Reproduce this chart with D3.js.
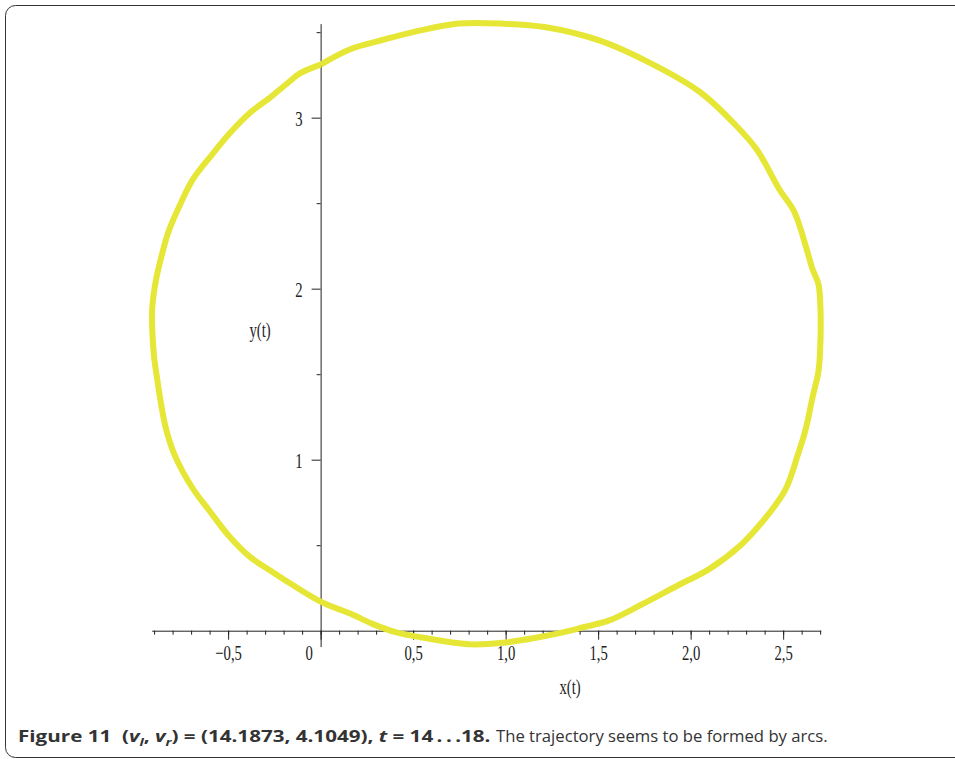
<!DOCTYPE html>
<html>
<head>
<meta charset="utf-8">
<style>
  body { margin: 0; background: #fff; }
  .tick text, .lbl { font-family: "Liberation Serif", "DejaVu Serif", serif; font-size: 21px; fill: #222; }
  .caption { font-family: "Open Sans", "Noto Sans", sans-serif; font-size: 16px; fill: #333; }
</style>
</head>
<body>
<svg width="955" height="763"></svg>
<script src="https://d3js.org/d3.v7.min.js"></script>
<script>
// trajectory (x(t), y(t)), going clockwise from the top crossing of the y axis
var trajX = [0.00, 0.16, 0.32, 0.54, 0.75, 0.97, 1.21, 1.51, 1.78, 2.05, 2.24, 2.36, 2.48, 2.56, 2.63, 2.66, 2.69, 2.70,
  2.70, 2.69, 2.66, 2.62, 2.58, 2.51, 2.39, 2.27, 2.10, 1.94, 1.73, 1.56, 1.42, 1.31, 1.17, 0.99, 0.81, 0.55, 0.41, 0.28,
  0.16, 0.00, -0.17, -0.27, -0.38, -0.50, -0.60, -0.69, -0.79, -0.84, -0.89, -0.90, -0.91, -0.91, -0.89, -0.86, -0.82,
  -0.76, -0.69, -0.59, -0.49, -0.38, -0.27, -0.17, -0.11, 0.00];
var trajY = [3.31, 3.40, 3.45, 3.51, 3.55, 3.55, 3.53, 3.45, 3.32, 3.15, 2.96, 2.81, 2.58, 2.45, 2.22, 2.11, 2.03, 1.93,
  1.64, 1.51, 1.37, 1.17, 1.03, 0.82, 0.64, 0.50, 0.36, 0.27, 0.15, 0.06, 0.02, -0.01, -0.04, -0.07, -0.08, -0.04, -0.01, 0.04,
  0.10, 0.17, 0.28, 0.35, 0.43, 0.56, 0.70, 0.83, 1.03, 1.20, 1.52, 1.60, 1.76, 1.89, 2.05, 2.19, 2.34,
  2.49, 2.64, 2.78, 2.91, 3.03, 3.12, 3.21, 3.26, 3.31];

// axis ticks
var xMajor = [-0.5, 0, 0.5, 1.0, 1.5, 2.0, 2.5];
var xMinor = d3.range(-9, 28).map(function (i) { return i / 10; });
var yMajor = [1, 2, 3];
var yMinor = [0.5, 1.5, 2.5, 3.5];

var svg = d3.select("svg");

// frame
svg.append("rect")
  .attr("x", 5.5).attr("y", 5.5)
  .attr("width", 1000).attr("height", 752)
  .attr("rx", 10)
  .attr("fill", "none")
  .attr("stroke", "#333")
  .attr("stroke-width", 1);

var x = d3.scaleLinear().domain([-0.913, 2.703]).range([151.7, 820.7]);
var y = d3.scaleLinear().domain([-0.093, 3.55]).range([646.6, 23.6]);

var fmt = function (d) {
  if (d === 0) return "0";
  return d3.format(".1f")(d).replace(".", ",").replace("-", "\u2212");
};

// x axis
var gx = svg.append("g").attr("transform", "translate(0," + y(0) + ")");
gx.append("g")
  .call(d3.axisBottom(x).tickValues(xMinor).tickSize(4).tickSizeOuter(0).tickFormat(""));
gx.append("g")
  .call(d3.axisBottom(x).tickValues(xMajor).tickSize(9).tickSizeOuter(0).tickFormat(fmt))
  .call(function (g) { g.select(".domain").remove(); });
gx.selectAll("path, line").attr("stroke", "#222");
gx.selectAll(".tick text")
  .attr("y", 0).attr("dy", 0)
  .attr("transform", function (d) { return "translate(" + (d === 0 ? -12 : 0) + ",29) scale(0.7,1)"; });

// y axis
var gy = svg.append("g").attr("transform", "translate(" + x(0) + ",0)");
gy.append("g")
  .call(d3.axisLeft(y).tickValues(yMinor).tickSize(4).tickSizeOuter(0).tickFormat(""));
gy.append("g")
  .call(d3.axisLeft(y).tickValues(yMajor).tickSize(9).tickSizeOuter(0).tickFormat(d3.format("d")))
  .call(function (g) { g.select(".domain").remove(); });
gy.selectAll("path, line").attr("stroke", "#222");
gy.selectAll(".tick text")
  .attr("x", 0).attr("dy", 0)
  .attr("transform", "translate(-18,8) scale(0.7,1)");

// axis labels
svg.append("text").attr("class", "lbl")
  .attr("text-anchor", "middle")
  .attr("transform", "translate(570,694) scale(0.7,1)")
  .text("x(t)");
svg.append("text").attr("class", "lbl")
  .attr("text-anchor", "middle")
  .attr("transform", "translate(260,337) scale(0.7,1)")
  .text("y(t)");

// trajectory
var pts = trajX.map(function (d, i) { return [d, trajY[i]]; });
svg.append("path")
  .datum(pts)
  .attr("fill", "none")
  .attr("stroke", "#e6e636")
  .attr("stroke-width", 6)
  .attr("stroke-linejoin", "round")
  .attr("d", d3.line().curve(d3.curveCatmullRom.alpha(0.5))
    .x(function (d) { return x(d[0]); }).y(function (d) { return y(d[1]); }));

// caption: bold lead-in and plain sentence, each fitted to its width in the picture
var capB = svg.append("text").attr("class", "caption").attr("fill", "#111").attr("font-weight", "bold");
capB.append("tspan").text("Figure 11\u00a0\u00a0(");
capB.append("tspan").attr("font-style", "italic").text("v");
capB.append("tspan").attr("font-style", "italic").attr("font-size", "11px").attr("dy", 4).text("l");
capB.append("tspan").attr("dy", -4).text(", ");
capB.append("tspan").attr("font-style", "italic").text("v");
capB.append("tspan").attr("font-style", "italic").attr("font-size", "11px").attr("dy", 4).text("r");
capB.append("tspan").attr("dy", -4).text(") = (14.1873, 4.1049), ");
capB.append("tspan").attr("font-style", "italic").text("t");
capB.append("tspan").text(" = 14\u2009.\u2009.\u2009.18.");
var wb = capB.node().getComputedTextLength();
capB.attr("transform", "translate(18,742) scale(" + (473 / wb) + ",1)");

var capR = svg.append("text").attr("class", "caption")
  .text("The trajectory seems to be formed by arcs.");
var wr = capR.node().getComputedTextLength();
capR.attr("transform", "translate(496,742) scale(" + (332 / wr) + ",1)");
</script>
</body>
</html>
